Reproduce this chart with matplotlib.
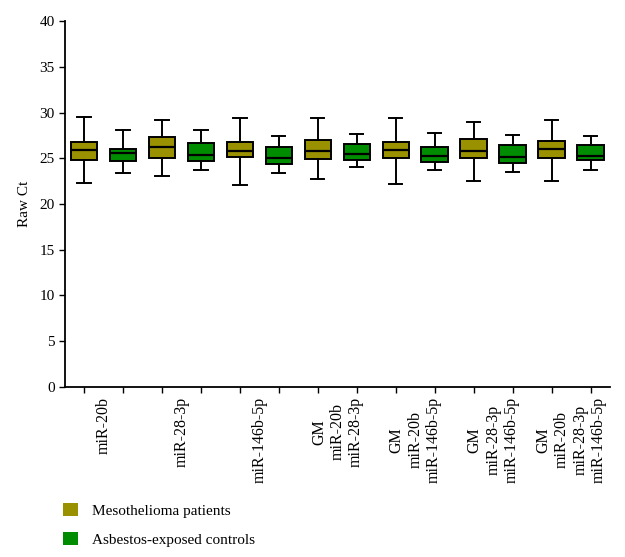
import matplotlib
matplotlib.use("Agg")
import matplotlib.pyplot as plt
from matplotlib.patches import Patch

plt.rcParams['font.family'] = ['Liberation Serif', 'DejaVu Serif']

categories = ["miR-20b", "miR-28-3p", "miR-146b-5p",
              "GM\nmiR-20b\nmiR-28-3p", "GM\nmiR-20b\nmiR-146b-5p",
              "GM\nmiR-28-3p\nmiR-146b-5p", "GM\nmiR-20b\nmiR-28-3p\nmiR-146b-5p"]
series_names = ["Mesothelioma patients", "Asbestos-exposed controls"]

# Mesothelioma patients
meso_low = [22.3, 23.0, 22.1, 22.7, 22.2, 22.5, 22.5]
meso_q1 = [24.8, 25.0, 25.1, 24.9, 25.0, 25.0, 25.0]
meso_med = [25.9, 26.2, 25.8, 25.8, 25.9, 25.8, 26.0]
meso_q3 = [26.8, 27.3, 26.8, 27.0, 26.8, 27.1, 26.9]
meso_high = [29.5, 29.2, 29.4, 29.4, 29.4, 29.0, 29.2]

# Asbestos-exposed controls
ctrl_low = [23.4, 23.7, 23.4, 24.0, 23.7, 23.5, 23.7]
ctrl_q1 = [24.7, 24.7, 24.4, 24.8, 24.6, 24.5, 24.8]
ctrl_med = [25.6, 25.4, 25.0, 25.5, 25.2, 25.1, 25.2]
ctrl_q3 = [26.05, 26.7, 26.2, 26.5, 26.2, 26.4, 26.4]
ctrl_high = [28.05, 28.1, 27.4, 27.6, 27.8, 27.5, 27.4]

colors = ["#999100", "#008c00"]

fig = plt.figure(figsize=(6.25, 5.57), dpi=100)
ax = fig.add_axes([0.1032, 0.306, 0.873, 0.656])

stats_meso = []
stats_ctrl = []
for i in range(len(categories)):
    stats_meso.append(dict(whislo=meso_low[i], q1=meso_q1[i], med=meso_med[i],
                           q3=meso_q3[i], whishi=meso_high[i], fliers=[]))
    stats_ctrl.append(dict(whislo=ctrl_low[i], q1=ctrl_q1[i], med=ctrl_med[i],
                           q3=ctrl_q3[i], whishi=ctrl_high[i], fliers=[]))

n = len(categories)
pos_meso = [2 * i for i in range(n)]
pos_ctrl = [2 * i + 1 for i in range(n)]

for stats, pos, col in [(stats_meso, pos_meso, colors[0]), (stats_ctrl, pos_ctrl, colors[1])]:
    ax.bxp(stats, positions=pos, widths=0.68, patch_artist=True, showfliers=False,
           boxprops=dict(facecolor=col, edgecolor='black', linewidth=1.4),
           medianprops=dict(color='black', linewidth=1.6),
           whiskerprops=dict(color='black', linewidth=1.4),
           capprops=dict(color='black', linewidth=1.4),
           capwidths=0.34, manage_ticks=False)

ax.set_xlim(-0.5, 2 * n - 0.5)
ax.set_ylim(0, 40)
ax.set_yticks(range(0, 41, 5))
ax.set_xticks(range(2 * n))
ax.set_xticklabels([])
ax.tick_params(axis='both', direction='out', length=4, width=1, labelsize=11, color='black')
ax.tick_params(axis='y', pad=3)
for s in ['top', 'right']:
    ax.spines[s].set_visible(False)
for s in ['left', 'bottom']:
    ax.spines[s].set_linewidth(1.3)

ax.set_ylabel("Raw Ct", fontsize=11, labelpad=6)

for i, lab in enumerate(categories):
    ax.text(2 * i + 0.5, -1.1, lab, rotation=90, ha='center', va='top',
            multialignment='center', fontsize=11.5, linespacing=1.2,
            transform=ax.transData, clip_on=False)

handles = [Patch(facecolor=c, edgecolor='none') for c in colors]
fig.legend(handles, series_names, loc='upper left', bbox_to_anchor=(0.079, 0.122),
           frameon=False, fontsize=11, handlelength=1.0, handleheight=1.0,
           handletextpad=0.9, labelspacing=0.9)

fig.savefig("out.png", dpi=100)
